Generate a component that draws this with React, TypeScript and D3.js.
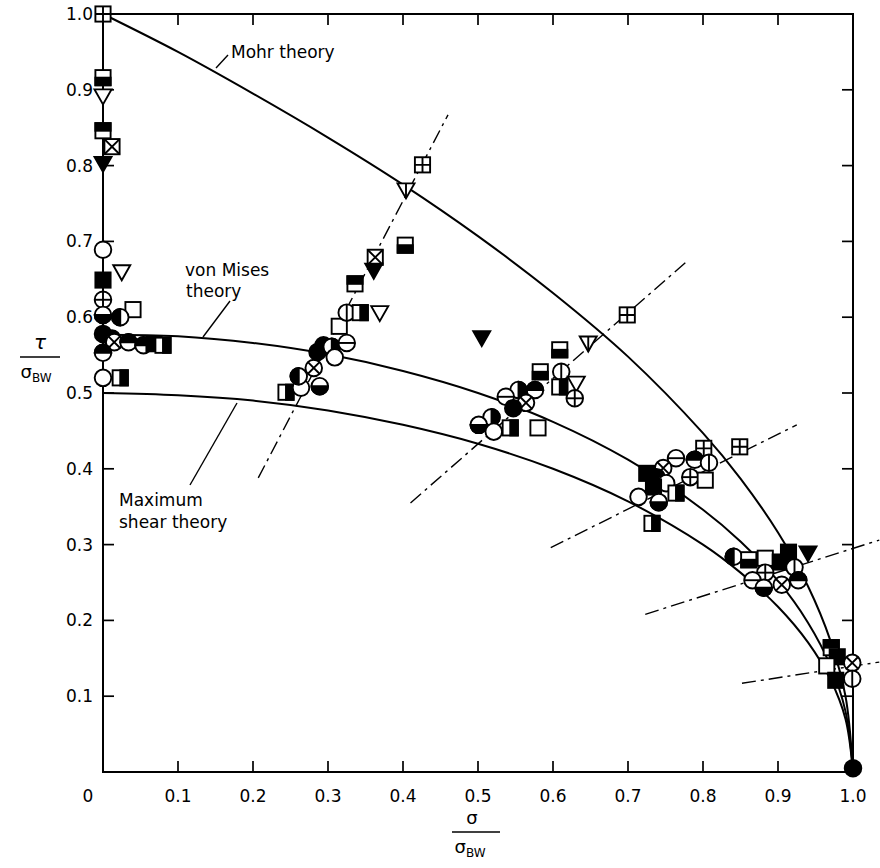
import React from "react";
import * as d3 from "d3";

const W = 880;
const H = 868;
const margin = { top: 14, right: 27, bottom: 96, left: 103 };

// axis ticks
const tickValues = [0.1, 0.2, 0.3, 0.4, 0.5, 0.6, 0.7, 0.8, 0.9];
const xLabels = ["0.1", "0.2", "0.3", "0.4", "0.5", "0.6", "0.7", "0.8", "0.9", "1.0"];
const yLabels = ["0.1", "0.2", "0.3", "0.4", "0.5", "0.6", "0.7", "0.8", "0.9", "1.0"];

// theory curves: [sigma/sigmaBW, tau/sigmaBW]
const mohrTheory: [number, number][] = [
  [0, 1.0], [0.1, 0.95], [0.2, 0.895], [0.3, 0.837], [0.4, 0.775], [0.5, 0.707],
  [0.6, 0.632], [0.7, 0.548], [0.8, 0.447], [0.85, 0.387], [0.9, 0.316],
  [0.94, 0.245], [0.97, 0.173], [0.99, 0.1], [1.0, 0],
];
const vonMisesTheory: [number, number][] = [
  [0, 0.577], [0.1, 0.575], [0.2, 0.566], [0.3, 0.551], [0.4, 0.529], [0.5, 0.5],
  [0.6, 0.462], [0.7, 0.412], [0.8, 0.346], [0.85, 0.304], [0.9, 0.252],
  [0.94, 0.197], [0.97, 0.14], [0.99, 0.08], [1.0, 0],
];
const maxShearTheory: [number, number][] = [
  [0, 0.5], [0.1, 0.497], [0.2, 0.49], [0.3, 0.477], [0.4, 0.458], [0.5, 0.433],
  [0.6, 0.4], [0.7, 0.357], [0.8, 0.3], [0.85, 0.263], [0.9, 0.218],
  [0.94, 0.171], [0.97, 0.122], [0.99, 0.07], [1.0, 0],
];

// constant-ratio loading lines (dash-dot)
const loadLines: [number, number][][] = [
  [[0.207, 0.388], [0.46, 0.867]],
  [[0.41, 0.355], [0.78, 0.675]],
  [[0.597, 0.296], [0.925, 0.458]],
  [[0.723, 0.208], [1.035, 0.306]],
  [[0.852, 0.117], [1.035, 0.145]],
];

// test points [sigma, tau, symbol]
const pureTorsion: [number, number, string][] = [
  [0, 1.0, "sP"], [0, 0.916, "sB"], [0, 0.892, "t"], [0, 0.846, "sT"],
  [0.012, 0.825, "sX"], [0, 0.803, "tf"], [0, 0.689, "c"], [0.025, 0.66, "t"],
  [0, 0.649, "sf"], [0, 0.623, "cP"], [0.04, 0.61, "s"], [0, 0.603, "cB"],
  [0.023, 0.6, "cL"], [0, 0.578, "cf"], [0.012, 0.572, "cf"], [0.015, 0.567, "cX"],
  [0.034, 0.567, "cT"], [0.054, 0.563, "cT"], [0.068, 0.565, "sf"], [0.08, 0.563, "sR"],
  [0, 0.553, "cT"], [0, 0.52, "c"], [0.023, 0.52, "sR"],
];
const ratioHigh: [number, number, string][] = [
  [0.244, 0.501, "sR"], [0.264, 0.507, "c"], [0.261, 0.522, "cL"], [0.281, 0.533, "cX"],
  [0.289, 0.509, "cB"], [0.286, 0.554, "cf"], [0.294, 0.563, "cf"], [0.305, 0.561, "cR"],
  [0.309, 0.547, "c"], [0.325, 0.566, "cH"], [0.315, 0.588, "s"], [0.325, 0.606, "cV"],
  [0.343, 0.606, "sR"], [0.369, 0.606, "t"], [0.336, 0.644, "sT"], [0.363, 0.679, "sX"],
  [0.361, 0.662, "tf"], [0.403, 0.695, "sB"], [0.404, 0.768, "tV"], [0.426, 0.801, "sP"],
];
const ratioMid: [number, number, string][] = [
  [0.505, 0.573, "tf"], [0.699, 0.603, "sP"], [0.647, 0.566, "tV"], [0.609, 0.557, "sB"],
  [0.583, 0.528, "sB"], [0.611, 0.528, "cV"], [0.631, 0.513, "t"], [0.609, 0.508, "sR"],
  [0.629, 0.493, "cP"], [0.576, 0.504, "cT"], [0.554, 0.504, "cR"], [0.537, 0.495, "cH"],
  [0.564, 0.487, "cX"], [0.547, 0.48, "cf"], [0.518, 0.468, "cR"], [0.501, 0.458, "cB"],
  [0.521, 0.449, "c"], [0.543, 0.454, "sR"], [0.58, 0.454, "s"],
];
const ratioLow: [number, number, string][] = [
  [0.801, 0.427, "sP"], [0.849, 0.429, "sP"], [0.764, 0.414, "cH"], [0.789, 0.412, "cT"],
  [0.808, 0.408, "cV"], [0.747, 0.401, "cX"], [0.725, 0.394, "sf"], [0.783, 0.389, "cP"],
  [0.803, 0.385, "s"], [0.738, 0.389, "cf"], [0.751, 0.381, "c"], [0.734, 0.376, "sf"],
  [0.764, 0.368, "sR"], [0.714, 0.363, "c"], [0.741, 0.356, "cB"], [0.732, 0.328, "sR"],
];
const ratioLower: [number, number, string][] = [
  [0.841, 0.284, "cL"], [0.861, 0.28, "sB"], [0.883, 0.282, "s"], [0.914, 0.29, "sf"],
  [0.94, 0.289, "tf"], [0.903, 0.277, "sf"], [0.922, 0.27, "cV"], [0.883, 0.263, "cP"],
  [0.866, 0.253, "cH"], [0.905, 0.247, "cX"], [0.927, 0.253, "cT"], [0.881, 0.243, "cB"],
];
const ratioLowest: [number, number, string][] = [
  [0.971, 0.164, "sT"], [0.979, 0.152, "sf"], [0.965, 0.14, "s"], [0.999, 0.144, "cX"],
  [0.977, 0.121, "sf"], [0.999, 0.123, "cV"], [1.0, 0.005, "cf"],
];

const font = "'DejaVu Sans', sans-serif";

function Marker({ kind, cx, cy }: { kind: string; cx: number; cy: number }) {
  const r = 8.3;
  const sw = 1.9;
  const t = `translate(${cx},${cy})`;
  if (kind[0] === "c") {
    const full = kind === "cf";
    return (
      <g transform={t} stroke="#000" strokeWidth={sw}>
        <circle r={r} fill={full ? "#000" : "#fff"} />
        {kind === "cL" && <path d={`M0,${-r}A${r},${r} 0 0 0 0,${r}Z`} fill="#000" />}
        {kind === "cR" && <path d={`M0,${-r}A${r},${r} 0 0 1 0,${r}Z`} fill="#000" />}
        {kind === "cT" && <path d={`M${-r},0A${r},${r} 0 0 1 ${r},0Z`} fill="#000" />}
        {kind === "cB" && <path d={`M${-r},0A${r},${r} 0 0 0 ${r},0Z`} fill="#000" />}
        {(kind === "cP" || kind === "cV") && <line x1={0} y1={-r} x2={0} y2={r} />}
        {(kind === "cP" || kind === "cH") && <line x1={-r} y1={0} x2={r} y2={0} />}
        {kind === "cX" && (
          <path d={`M${-r * 0.7},${-r * 0.7}L${r * 0.7},${r * 0.7}M${r * 0.7},${-r * 0.7}L${-r * 0.7},${r * 0.7}`} />
        )}
      </g>
    );
  }
  if (kind[0] === "s") {
    const s = 7.6;
    return (
      <g transform={t} stroke="#000" strokeWidth={sw}>
        <rect x={-s} y={-s} width={2 * s} height={2 * s} fill={kind === "sf" ? "#000" : "#fff"} />
        {kind === "sT" && <rect x={-s} y={-s} width={2 * s} height={s} fill="#000" />}
        {kind === "sB" && <rect x={-s} y={0} width={2 * s} height={s} fill="#000" />}
        {kind === "sL" && <rect x={-s} y={-s} width={s} height={2 * s} fill="#000" />}
        {kind === "sR" && <rect x={0} y={-s} width={s} height={2 * s} fill="#000" />}
        {kind === "sP" && <path d={`M0,${-s}V${s}M${-s},0H${s}`} />}
        {kind === "sX" && <path d={`M${-s},${-s}L${s},${s}M${s},${-s}L${-s},${s}`} />}
      </g>
    );
  }
  // downward triangles
  return (
    <g transform={t} stroke="#000" strokeWidth={sw}>
      <path d="M-8.5,-6.5H8.5L0,8.5Z" fill={kind === "tf" ? "#000" : "#fff"} strokeLinejoin="miter" />
      {kind === "tV" && <line x1={0} y1={-6.5} x2={0} y2={8.5} />}
    </g>
  );
}

export default function App() {
  const x = d3.scaleLinear().domain([0, 1]).range([margin.left, W - margin.right]);
  const y = d3.scaleLinear().domain([0, 1]).range([H - margin.bottom, margin.top]);
  const line = d3
    .line<[number, number]>()
    .x((d) => x(d[0]))
    .y((d) => y(d[1]))
    .curve(d3.curveCatmullRom.alpha(0.5));
  const straight = d3
    .line<[number, number]>()
    .x((d) => x(d[0]))
    .y((d) => y(d[1]));

  const x0 = x(0), x1 = x(1), y0 = y(0), y1 = y(1);
  const tick = 11;
  const allPoints = [...pureTorsion, ...ratioHigh, ...ratioMid, ...ratioLow, ...ratioLower, ...ratioLowest];

  return (
    <svg
      width={W}
      height={H}
      style={{ position: "absolute", left: 0, top: 0, background: "#fff" }}
      fontFamily={font}
    >
      <rect width={W} height={H} fill="#fff" />
      <defs>
        <clipPath id="plotClip">
          <rect x={x0} y={y1} width={W - x0} height={y0 - y1} />
        </clipPath>
      </defs>

      {/* frame */}
      <rect x={x0} y={y1} width={x1 - x0} height={y0 - y1} fill="none" stroke="#000" strokeWidth={2} />
      {tickValues.map((v) => (
        <g key={"t" + v} stroke="#000" strokeWidth={1.7}>
          <line x1={x(v)} x2={x(v)} y1={y0} y2={y0 - tick} />
          <line x1={x(v)} x2={x(v)} y1={y1} y2={y1 + tick} />
          <line x1={x0} x2={x0 + tick} y1={y(v)} y2={y(v)} />
          <line x1={x1} x2={x1 - tick} y1={y(v)} y2={y(v)} />
        </g>
      ))}

      {/* tick labels */}
      <g fontSize={17} fill="#000">
        <text x={x0 - 15} y={y0 + 30} textAnchor="middle">0</text>
        {xLabels.map((l, i) => (
          <text key={"xl" + l} x={x((i + 1) / 10)} y={y0 + 30} textAnchor="middle">{l}</text>
        ))}
        {yLabels.map((l, i) => (
          <text key={"yl" + l} x={x0 - 10} y={y((i + 1) / 10)} dy="0.35em" textAnchor="end">{l}</text>
        ))}
      </g>

      {/* axis titles */}
      <g fill="#000">
        <text x={40} y={349} fontSize={20} textAnchor="middle" fontStyle="italic">τ</text>
        <line x1={20} x2={60} y1={357} y2={357} stroke="#000" strokeWidth={1.5} />
        <text x={36} y={378} fontSize={18} textAnchor="middle">
          σ<tspan fontSize={12} dy={4}>BW</tspan>
        </text>
        <text x={472} y={824} fontSize={18} textAnchor="middle">σ</text>
        <line x1={452} x2={500} y1={832} y2={832} stroke="#000" strokeWidth={1.5} />
        <text x={470} y={853} fontSize={18} textAnchor="middle">
          σ<tspan fontSize={12} dy={4}>BW</tspan>
        </text>
      </g>

      {/* loading lines */}
      <g clipPath="url(#plotClip)" fill="none" stroke="#000" strokeWidth={1.4} strokeDasharray="14 5 3 5">
        {loadLines.map((seg, i) => (
          <path key={"ll" + i} d={straight(seg) || ""} />
        ))}
      </g>

      {/* theory curves */}
      <g fill="none" stroke="#000" strokeWidth={2}>
        <path d={line(mohrTheory) || ""} />
        <path d={line(vonMisesTheory) || ""} />
        <path d={line(maxShearTheory) || ""} />
      </g>

      {/* annotations */}
      <g fontSize={17} fill="#000">
        <line x1={216} y1={68} x2={228} y2={55} stroke="#000" strokeWidth={1.4} />
        <text x={231} y={58}>Mohr theory</text>
        <text x={185} y={276}>von Mises</text>
        <text x={186} y={297}>theory</text>
        <line x1={230} y1={301} x2={203} y2={337} stroke="#000" strokeWidth={1.4} />
        <text x={119} y={506}>Maximum</text>
        <text x={119} y={528}>shear theory</text>
        <line x1={190} y1={485} x2={237} y2={403} stroke="#000" strokeWidth={1.4} />
      </g>

      {/* test points */}
      {allPoints.map((p, i) => (
        <Marker key={"p" + i} kind={p[2]} cx={x(p[0])} cy={y(p[1])} />
      ))}
    </svg>
  );
}
